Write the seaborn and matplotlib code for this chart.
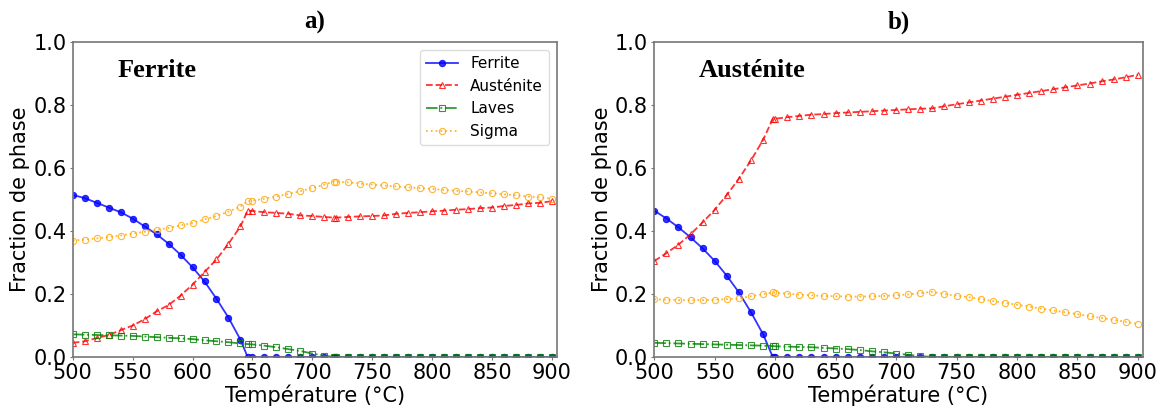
import numpy as np
import pandas as pd
import matplotlib
matplotlib.use('Agg')
import matplotlib.pyplot as plt
import seaborn as sns

# données
temp_a = list(range(500, 641, 10)) + [646] + list(range(650, 711, 10)) + [718] + list(range(720, 901, 10))
ferrite_a = [0.515, 0.505, 0.49, 0.475, 0.46, 0.44, 0.415, 0.39, 0.36, 0.325, 0.285, 0.24, 0.185, 0.125, 0.055,
             0.0] + [0.0] * 7 + [0.0] + [0.0] * 19
austenite_a = [0.045, 0.05, 0.06, 0.07, 0.085, 0.10, 0.12, 0.145, 0.165, 0.195, 0.23, 0.27, 0.31, 0.36, 0.415,
               0.465,
               0.464, 0.46, 0.458, 0.455, 0.45, 0.448, 0.445,
               0.443,
               0.443, 0.445, 0.447, 0.448, 0.45, 0.455, 0.458, 0.46, 0.463, 0.465, 0.468, 0.47, 0.473, 0.475,
               0.48, 0.483, 0.488, 0.49, 0.495]
laves_a = [0.072, 0.071, 0.07, 0.069, 0.068, 0.067, 0.065, 0.063, 0.061, 0.059, 0.057, 0.053, 0.05, 0.047, 0.043,
           0.041,
           0.04, 0.036, 0.031, 0.025, 0.019, 0.011, 0.004,
           0.0] + [0.0] * 19
sigma_a = [0.37, 0.373, 0.377, 0.381, 0.386, 0.392, 0.398, 0.404, 0.41, 0.418, 0.426, 0.437, 0.448, 0.462, 0.478,
           0.495,
           0.497, 0.503, 0.51, 0.518, 0.527, 0.537, 0.548,
           0.557,
           0.557, 0.555, 0.551, 0.548, 0.545, 0.542, 0.539, 0.537, 0.534, 0.531, 0.528, 0.526, 0.523, 0.52,
           0.517, 0.514, 0.51, 0.507, 0.503]

temp_b = list(range(500, 591, 10)) + [598] + list(range(600, 901, 10))
ferrite_b = [0.465, 0.44, 0.412, 0.38, 0.345, 0.305, 0.258, 0.205, 0.142, 0.072, 0.0] + [0.0] * 31
austenite_b = [0.305, 0.33, 0.357, 0.39, 0.428, 0.468, 0.515, 0.567, 0.625, 0.69,
               0.757,
               0.757, 0.762, 0.766, 0.77, 0.772, 0.775, 0.777, 0.779, 0.781, 0.783, 0.785, 0.787, 0.789, 0.79,
               0.797, 0.803, 0.809, 0.815, 0.821, 0.827, 0.833, 0.839, 0.845, 0.851, 0.857, 0.863, 0.869,
               0.876, 0.882, 0.889, 0.897]
laves_b = [0.045, 0.044, 0.043, 0.042, 0.041, 0.04, 0.039, 0.038, 0.037, 0.036,
           0.035,
           0.034, 0.033, 0.032, 0.031, 0.029, 0.027, 0.025, 0.022, 0.018, 0.015, 0.011, 0.007, 0.003, 0.0] + [0.0] * 17
sigma_b = [0.183, 0.182, 0.181, 0.18, 0.181, 0.182, 0.184, 0.186, 0.193, 0.2,
           0.205,
           0.204, 0.201, 0.198, 0.196, 0.194, 0.193, 0.192, 0.192, 0.193, 0.194, 0.196, 0.199, 0.203, 0.207,
           0.2, 0.195, 0.19, 0.184, 0.178, 0.172, 0.166, 0.16, 0.154, 0.148, 0.142, 0.136, 0.13, 0.124,
           0.118, 0.112, 0.105]

phases = ['Ferrite', 'Austénite', 'Laves', 'Sigma']
panel_titles = ['a)', 'b)']
panel_notes = ['Ferrite', 'Austénite']

# styles des courbes
styles = {'Ferrite': dict(color='blue', ls='-', marker='o', mfc='blue'),
          'Austénite': dict(color='red', ls='--', marker='^', mfc='none'),
          'Laves': dict(color='green', ls='-.', marker='s', mfc='none'),
          'Sigma': dict(color='orange', ls=':', marker='o', mfc='none')}

panels = [(temp_a, [ferrite_a, austenite_a, laves_a, sigma_a]),
          (temp_b, [ferrite_b, austenite_b, laves_b, sigma_b])]

fig = plt.figure(figsize=(11.62, 4.12), dpi=100)
ax_pos = [[0.0626, 0.1335, 0.4165, 0.7638], [0.5631, 0.1335, 0.4203, 0.7638]]

for k, (temps, series) in enumerate(panels):
    ax = fig.add_axes(ax_pos[k])
    for name, vals in zip(phases, series):
        st = styles[name]
        sns.lineplot(x=temps, y=vals, ax=ax, color=st['color'], linestyle=st['ls'],
                     marker=st['marker'], markersize=4.5, markerfacecolor=st['mfc'],
                     markeredgecolor=st['color'], markeredgewidth=0.8, alpha=0.8,
                     linewidth=1.3, label=name, legend=False)
    ax.set_xlim(500, 904)
    ax.set_ylim(0, 1.0)
    ax.set_xticks(range(500, 901, 50))
    ax.set_yticks(np.arange(0, 1.01, 0.2))
    ax.tick_params(labelsize=15, length=2.5, pad=2, color='#777777')
    ax.set_xlabel('Température (°C)', fontsize=15, labelpad=1)
    ax.set_ylabel('Fraction de phase', fontsize=15, labelpad=2)
    ax.set_title(panel_titles[k], fontsize=18, fontweight='bold', fontname='Liberation Serif', pad=10)
    ax.text(537, 0.912, panel_notes[k], fontsize=19, fontweight='bold', fontname='Liberation Serif',
            va='center', ha='left')
    for sp in ax.spines.values():
        sp.set_color('#777777')
        sp.set_linewidth(1.2)
    if k == 0:
        ax.legend(loc='upper right', fontsize=11, framealpha=1, edgecolor='#dddddd',
                  borderaxespad=0.5, handlelength=2.1)

plt.savefig('out.png', dpi=100)
